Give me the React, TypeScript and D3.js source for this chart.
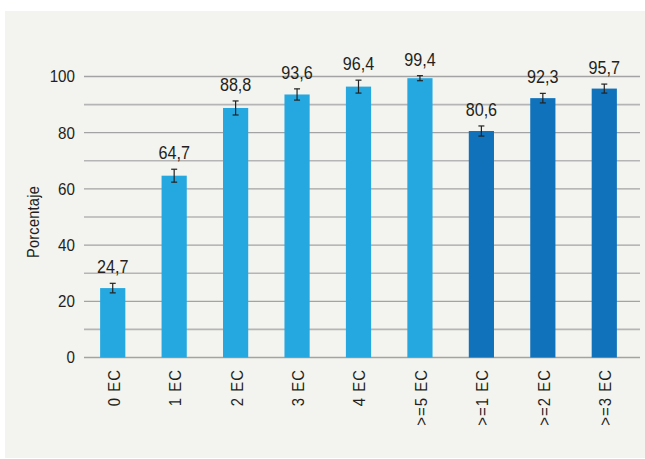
import React from "react";
import * as d3 from "d3";

const categories = ["0 EC", "1 EC", "2 EC", "3 EC", "4 EC", ">=5 EC", ">=1 EC", ">=2 EC", ">=3 EC"];
const values = [24.7, 64.7, 88.8, 93.6, 96.4, 99.4, 80.6, 92.3, 95.7];
const errors = [1.7, 2.3, 2.5, 2.0, 2.3, 0.9, 1.8, 1.7, 1.6];
const groups = [0, 0, 0, 0, 0, 0, 1, 1, 1];
const yTicks = [0, 20, 40, 60, 80, 100];
const gridValues = [0, 10, 20, 30, 40, 50, 60, 70, 80, 90, 100];

const W = 645;
const H = 459;
const FONT = "'Liberation Sans', Arial, sans-serif";
const colors = ["#25a8e0", "#0f72bb"];
const TXT = "#231f20";

type TProps = { x: number; y: number; rot?: number; sx?: number; ls?: number; anchor?: string; size: number; dy?: string; children: React.ReactNode };
function NText({ x, y, rot = 0, sx = 0.85, ls = 0, anchor = "middle", size, dy, children }: TProps) {
  return (
    <text
      transform={`translate(${x},${y}) rotate(${rot}) scale(${sx},1)`}
      textAnchor={anchor}
      dy={dy}
      fontFamily={FONT}
      fontSize={size}
      letterSpacing={ls}
      fill={TXT}
    >
      {children}
    </text>
  );
}

export default function App() {
  const x = d3.scaleBand<string>().domain(categories).range([82, 635]).paddingInner(0.59).paddingOuter(0.295);
  const y = d3.scaleLinear().domain([0, 100]).range([357.5, 76.5]);
  const bw = x.bandwidth();
  return (
    <svg width={W} height={H} style={{ position: "absolute", left: 0, top: 0 }}>
      <rect x={0} y={0} width={W} height={H} fill="#ffffff" />
      <rect x={5} y={11} width={640} height={447} fill="#f3f3ef" />
      {gridValues.map((g) => (
        <line key={g} x1={84} x2={640} y1={y(g)} y2={y(g)} stroke={g % 20 === 0 ? "#a3a3a3" : "#b5b5b5"} strokeWidth={g % 20 === 0 ? 1.3 : 1.6} />
      ))}
      {yTicks.map((t) => (
        <NText key={t} x={75} y={y(t)} dy="0.36em" anchor="end" size={16.5} sx={0.92}>
          {t}
        </NText>
      ))}
      <NText x={39} y={222} rot={-90} size={16.5} sx={0.88} ls={0.3}>
        Porcentaje
      </NText>
      {categories.map((c, i) => {
        const cx = (x(c) as number) + bw / 2;
        const top = y(values[i]);
        const eTop = y(values[i] + errors[i]);
        const eBot = y(values[i] - errors[i]);
        return (
          <g key={c}>
            <rect x={x(c)} y={top} width={bw} height={y(0) - top} fill={colors[groups[i]]} />
            <line x1={cx} x2={cx} y1={eTop} y2={eBot} stroke="#222" strokeWidth={1.2} />
            <line x1={cx - 3} x2={cx + 3} y1={eTop} y2={eTop} stroke="#222" strokeWidth={1.2} />
            <line x1={cx - 3} x2={cx + 3} y1={eBot} y2={eBot} stroke="#222" strokeWidth={1.2} />
            <NText x={cx} y={eTop - 10} size={19} sx={0.85}>
              {values[i].toFixed(1).replace(".", ",")}
            </NText>
            <NText x={cx + 1} y={369} rot={-90} anchor="end" dy="0.36em" size={16.5} sx={0.9} ls={1.2}>
              {c}
            </NText>
          </g>
        );
      })}
    </svg>
  );
}
